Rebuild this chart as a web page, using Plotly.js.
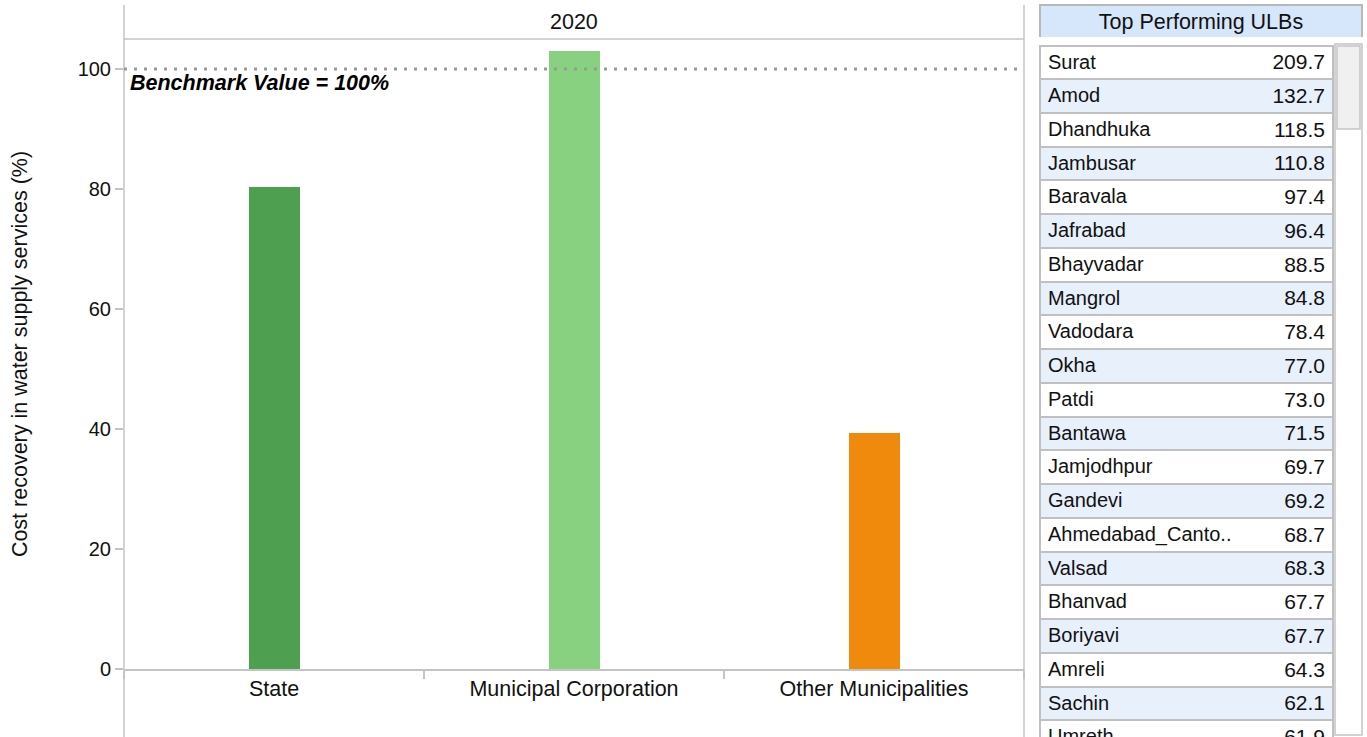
<!DOCTYPE html>
<html>
<head>
<meta charset="utf-8">
<script src="https://cdn.plot.ly/plotly-3.0.1.min.js"></script>
<style>
html,body{margin:0;padding:0;overflow:hidden;background:#fff}
#chart{width:1367px;height:756px}
</style>
</head>
<body>
<div id="chart"></div>
<script>
// ---- data ----
const year = '2020';
const categories = ['State', 'Municipal Corporation', 'Other Municipalities'];
const costRecovery = [80.3, 103.0, 39.3];
const barColors = ['#4E9F50', '#87D180', '#EF8A0C'];
const benchmark = 100;
const yTicks = [0, 20, 40, 60, 80, 100];
const tableTitle = 'Top Performing ULBs';
const ulbNames = ['Surat', 'Amod', 'Dhandhuka', 'Jambusar', 'Baravala', 'Jafrabad', 'Bhayvadar',
  'Mangrol', 'Vadodara', 'Okha', 'Patdi', 'Bantawa', 'Jamjodhpur', 'Gandevi', 'Ahmedabad_Canto..',
  'Valsad', 'Bhanvad', 'Boriyavi', 'Amreli', 'Sachin', 'Umreth'];
const ulbValues = [209.7, 132.7, 118.5, 110.8, 97.4, 96.4, 88.5, 84.8, 78.4, 77.0, 73.0, 71.5,
  69.7, 69.2, 68.7, 68.3, 67.7, 67.7, 64.3, 62.1, 61.9];

// ---- layout helpers (pixel -> paper) ----
const W = 1367, H = 756;
const px = v => v / W;
const py = v => 1 - v / H;
const FONT = 'Liberation Sans, Arial, sans-serif';
const GRID = '#c4c4c4';
const rowFills = ulbNames.map((_, i) => i % 2 === 0 ? '#ffffff' : '#e8f0fc');
const noHeader = {values: [''], height: 1, line: {width: 0, color: 'rgba(0,0,0,0)'},
                  fill: {color: 'rgba(0,0,0,0)'}, font: {size: 1}};

const bars = {
  type: 'bar',
  x: categories,
  y: costRecovery,
  marker: {color: barColors},
  width: 0.17,
  hoverinfo: 'skip',
  showlegend: false
};

const titleTable = {
  type: 'table',
  domain: {x: [px(1040), px(1362)], y: [py(38), py(5)]},
  header: {
    values: [tableTitle],
    height: 33,
    align: 'center',
    fill: {color: '#d6e6fb'},
    line: {color: '#b8b8b8', width: 1.5},
    font: {family: FONT, size: 21.5, color: '#111'}
  },
  cells: {values: []}
};

const nameTable = {
  type: 'table',
  domain: {x: [px(1040), px(1334)], y: [0, py(44.5)]},
  header: noHeader,
  cells: {
    values: [ulbNames],
    height: 33.74,
    align: 'left',
    fill: {color: [rowFills]},
    line: {color: '#c0c0c0', width: 2},
    font: {family: FONT, size: 20, color: '#111'}
  }
};

const valueTable = {
  type: 'table',
  domain: {x: [px(1040), px(1334)], y: [0, py(44.5)]},
  header: noHeader,
  cells: {
    values: [ulbValues.map(v => v.toFixed(1))],
    height: 33.74,
    align: 'right',
    fill: {color: 'rgba(0,0,0,0)'},
    line: {color: 'rgba(0,0,0,0)', width: 0},
    font: {family: FONT, size: 21, color: '#111'}
  }
};

const layout = {
  width: W, height: H,
  margin: {l: 0, r: 0, t: 0, b: 0},
  paper_bgcolor: '#fff', plot_bgcolor: '#fff',
  font: {family: FONT, color: '#111'},
  bargap: 0,
  xaxis: {
    domain: [px(124), px(1024)],
    type: 'category',
    range: [-0.5, 2.5],
    showline: true, linecolor: GRID, linewidth: 1.5,
    ticks: 'outside', tickson: 'boundaries', ticklen: 8, tickcolor: GRID, tickwidth: 1.5,
    tickfont: {family: FONT, size: 21.5, color: '#111'},
    showgrid: false, zeroline: false, fixedrange: true
  },
  yaxis: {
    domain: [py(669), py(39)],
    range: [0, 105],
    tickvals: yTicks,
    ticks: 'outside', ticklen: 8, tickcolor: GRID, tickwidth: 1.5,
    tickfont: {family: FONT, size: 20, color: '#111'},
    showline: false, showgrid: false, zeroline: false, fixedrange: true,
    title: {text: 'Cost recovery in water supply services (%)', standoff: 44,
            font: {family: FONT, size: 21.5, color: '#111'}}
  },
  shapes: [
    // panel borders
    {type: 'line', xref: 'x domain', yref: 'paper', x0: 0, x1: 0, y0: py(5), y1: 0, line: {color: GRID, width: 1.5}},
    {type: 'line', xref: 'x domain', yref: 'paper', x0: 1, x1: 1, y0: py(5), y1: 0, line: {color: GRID, width: 1.5}},
    {type: 'line', xref: 'x domain', yref: 'y domain', x0: 0, x1: 1, y0: 1, y1: 1, line: {color: GRID, width: 1.5}},
    // benchmark reference line
    {type: 'line', xref: 'x domain', yref: 'y', x0: 0, x1: 1, y0: benchmark, y1: benchmark,
     line: {color: '#999999', width: 3, dash: '3px,7px'}},
    // scrollbar track and thumb
    {type: 'rect', xref: 'paper', yref: 'paper', x0: px(1335), x1: px(1362), y0: py(44), y1: py(735),
     fillcolor: '#ffffff', line: {color: GRID, width: 1.5}},
    {type: 'rect', xref: 'paper', yref: 'paper', x0: px(1337), x1: px(1360), y0: py(46), y1: py(129),
     fillcolor: '#f0f0f0', line: {color: GRID, width: 1.5}}
  ],
  annotations: [
    {text: year, xref: 'x domain', yref: 'paper', x: 0.5, y: py(22), xanchor: 'center', yanchor: 'middle',
     showarrow: false, font: {family: FONT, size: 21.5, color: '#111'}},
    {text: '<b><i>Benchmark Value = ' + benchmark + '%</i></b>', xref: 'x domain', yref: 'y',
     x: 0, y: benchmark, xanchor: 'left', yanchor: 'top', xshift: 4, yshift: 0,
     showarrow: false, font: {family: FONT, size: 21.5, color: '#000'}}
  ]
};

Plotly.newPlot('chart', [bars, titleTable, nameTable, valueTable], layout,
  {displayModeBar: false, staticPlot: true});
</script>
</body>
</html>
